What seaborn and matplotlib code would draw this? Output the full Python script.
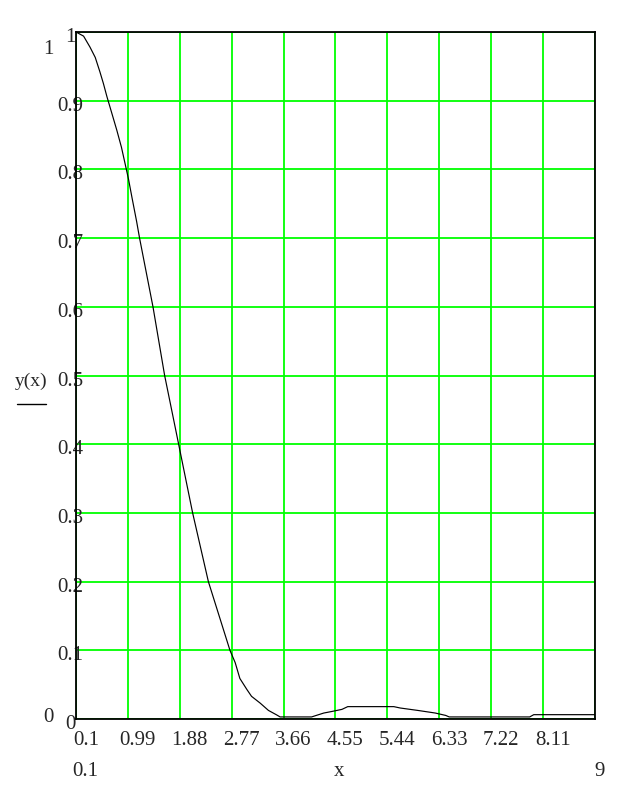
import matplotlib
matplotlib.use("Agg")
import matplotlib.pyplot as plt
import pandas as pd
import seaborn as sns
from matplotlib.transforms import ScaledTranslation
from matplotlib.lines import Line2D

# values
x_vals = [0.1, 0.23, 0.34, 0.43, 0.51, 0.57, 0.63, 0.71, 0.80, 0.88, 0.94, 1.0, 1.06, 1.14,
          1.19, 1.42, 1.62, 1.86, 2.1, 2.37, 2.74, 2.83, 2.91, 3.03, 3.11, 3.26, 3.4, 3.54,
          3.6, 3.9, 4.14, 4.22, 4.35, 4.49, 4.66, 4.76, 5.15, 5.55, 5.66, 5.96, 6.26, 6.44,
          6.5, 7.0, 7.88, 7.95, 8.4, 9.0]
y_vals = [1.0, 0.994, 0.978, 0.963, 0.942, 0.925, 0.906, 0.883, 0.857, 0.832, 0.809, 0.786, 0.759, 0.724,
          0.7, 0.6, 0.5, 0.4, 0.3, 0.2, 0.1, 0.082, 0.059, 0.043, 0.033, 0.023, 0.0125, 0.006,
          0.003, 0.003, 0.003, 0.0052, 0.0087, 0.011, 0.014, 0.018, 0.018, 0.018, 0.016, 0.0125, 0.0087, 0.0052,
          0.003, 0.003, 0.003, 0.0063, 0.0063, 0.0063]

x_ticks = [0.1, 0.99, 1.88, 2.77, 3.66, 4.55, 5.44, 6.33, 7.22, 8.11, 9.0]
x_tick_labels = ["0.1", "0.99", "1.88", "2.77", "3.66", "4.55", "5.44", "6.33", "7.22", "8.11", ""]
y_ticks = [0, 0.1, 0.2, 0.3, 0.4, 0.5, 0.6, 0.7, 0.8, 0.9, 1.0]
y_tick_labels = ["0", "0.1", "0.2", "0.3", "0.4", "0.5", "0.6", "0.7", "0.8", "0.9", "1"]

sns.set_style("white")
plt.rcParams["font.family"] = ["Liberation Serif", "DejaVu Serif"]

W, H = 628, 785
fig = plt.figure(figsize=(W / 100, H / 100), dpi=100)
ax = fig.add_axes([76 / W, (H - 719) / H, 519 / W, 687 / H])

df = pd.DataFrame({"x": x_vals, "y": y_vals})
sns.lineplot(data=df, x="x", y="y", color="black", linewidth=0.85, ax=ax, zorder=3)

ax.set_xlim(0.1, 9)
ax.set_ylim(0, 1)
ax.set_xticks(x_ticks)
ax.set_xticklabels(x_tick_labels, fontsize=15)
ax.set_yticks(y_ticks)
ax.set_yticklabels(y_tick_labels, fontsize=15)
ax.set_xlabel("")
ax.set_ylabel("")
ax.grid(True, color="#00ff00", linewidth=1.3)
ax.set_axisbelow(True)
ax.tick_params(axis="both", length=0)
ax.tick_params(axis="x", pad=8.5)
ax.tick_params(axis="y", pad=0)
for sp in ax.spines.values():
    sp.set_color("black")
    sp.set_linewidth(1.3)
    sp.set_visible(True)

for lab in ax.get_xticklabels():
    lab.set_ha("center")
    lab.set_transform(lab.get_transform() + ScaledTranslation(10 / 100, 0, fig.dpi_scale_trans))
for lab in ax.get_yticklabels():
    lab.set_ha("center")
    lab.set_transform(lab.get_transform() + ScaledTranslation(-6 / 100, -3 / 100, fig.dpi_scale_trans))


def ftext(px, py, s, size=15):
    fig.text(px / W, 1 - py / H, s, fontsize=size, ha="center", va="center")


ftext(48.5, 49, "1")
ftext(48, 717, "0")
ftext(85.5, 772, "0.1")
ftext(339, 772, "x")
ftext(600, 772, "9")
ftext(31.5, 381, "y(x)", size=14)
fig.add_artist(Line2D([17 / W, 46 / W], [1 - 404 / H, 1 - 404 / H], color="black", linewidth=1.0))

fig.savefig("out.png", dpi=100)
